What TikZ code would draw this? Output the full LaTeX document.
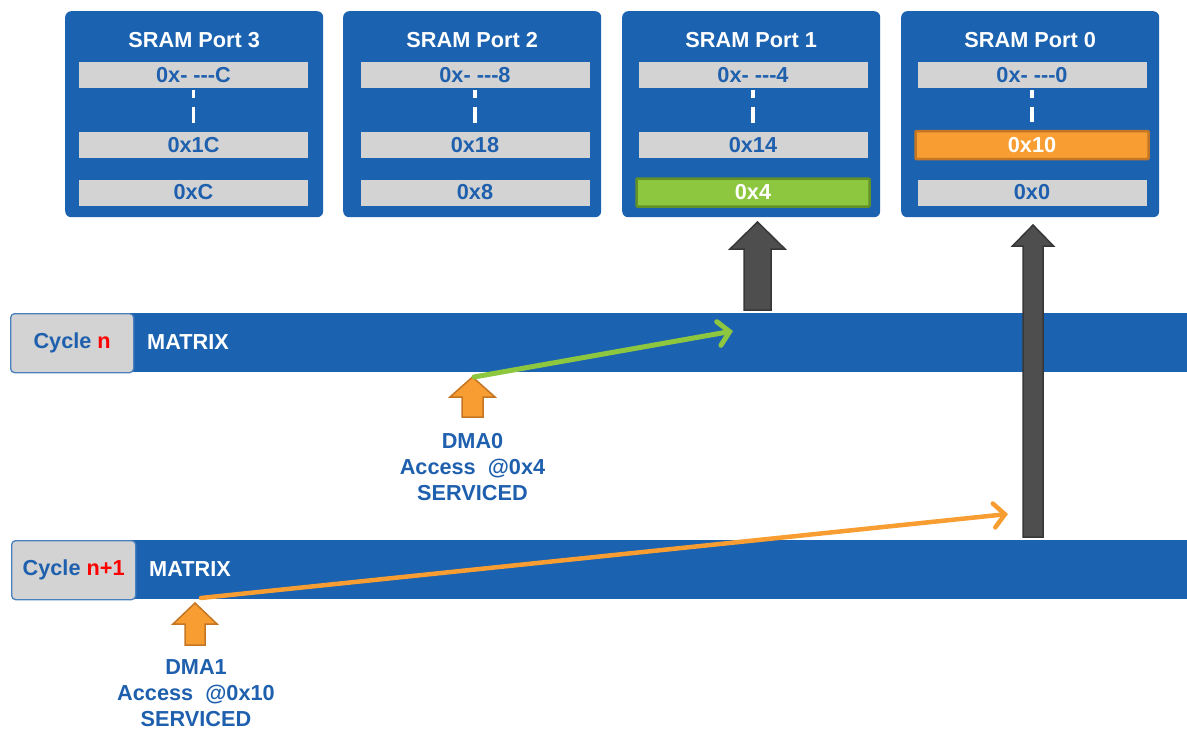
\documentclass[tikz,border=0pt]{standalone}
\usepackage{fontspec}
\setmainfont{Liberation Sans}
\usetikzlibrary{arrows.meta}

\definecolor{barblue}{RGB}{27,98,176}
\definecolor{txtblue}{RGB}{30,96,174}
\definecolor{rowgray}{RGB}{211,211,211}
\definecolor{hlgreen}{RGB}{141,198,63}
\definecolor{hlgreenedge}{RGB}{98,145,40}
\definecolor{hlorange}{RGB}{247,157,49}
\definecolor{hlorangeedge}{RGB}{196,118,36}
\definecolor{arrgray}{RGB}{78,78,78}
\definecolor{arrgrayedge}{RGB}{55,55,55}
\definecolor{cycleedge}{RGB}{74,127,190}

\tikzset{
  big/.style={font=\fontsize{21.7}{25}\selectfont\bfseries},
  portbox/.style={fill=barblue, rounded corners=6pt, anchor=north west, inner sep=0pt},
  porttitle/.style={big, text=white, inner sep=0pt},
  addr/.style={big, fill=rowgray, text=txtblue, minimum width=229pt, minimum height=26pt, inner sep=0pt},
  hitgreen/.style={big, fill=hlgreen, draw=hlgreenedge, line width=2.5pt, text=white, minimum width=233pt, minimum height=28pt, inner sep=0pt, rounded corners=1pt},
  hitorange/.style={big, fill=hlorange, draw=hlorangeedge, line width=2.5pt, text=white, minimum width=233pt, minimum height=28pt, inner sep=0pt, rounded corners=1pt},
  gap/.style={white, line width=3.2pt, dash pattern=on 8pt off 9pt on 40pt off 1pt},
  matrixbar/.style={fill=barblue, anchor=north west, inner sep=0pt},
  cyclebox/.style={big, fill=rowgray, draw=cycleedge, line width=1.3pt, rounded corners=4pt, text=txtblue, anchor=north west, inner sep=0pt},
  barlabel/.style={big, text=white, anchor=west, inner sep=0pt},
  dmatext/.style={big, text=txtblue, align=center, inner sep=0pt},
  grayblock/.style={fill=arrgray, draw=arrgrayedge, line width=1.5pt, line join=miter},
  orangeblock/.style={fill=hlorange, draw=hlorangeedge, line width=1.5pt, line join=miter},
  % upward block arrow drawn from its tip: head length / head half width / shaft half width / total length
  pics/uparrow/.style args={#1/#2/#3/#4}{code={
    \path[pic actions] (0,0) -- (#2,#1) -- (#3,#1) -- (#3,#4) -- (-#3,#4) -- (-#3,#1) -- (-#2,#1) -- cycle;
  }},
  reqgreen/.style={draw=hlgreen, line width=5pt, line cap=round, -{Straight Barb[length=11pt,width=24pt,line cap=round]}},
  reqorange/.style={draw=hlorange, line width=4.5pt, line cap=round, -{Straight Barb[length=11pt,width=24pt,line cap=round]}},
}

\begin{document}
\begin{tikzpicture}[x=1pt,y=-1pt]
\useasboundingbox (0,0) rectangle (1187,731);

% ---------- SRAM ports ----------
\foreach \name/\px/\title in {p3/65/SRAM Port 3, p2/343/SRAM Port 2, p1/622/SRAM Port 1, p0/901/SRAM Port 0}{
  \node[portbox, minimum width=258pt, minimum height=206pt] (\name) at (\px,11) {};
  \node[porttitle] (\name title) at ([yshift=-29pt]\name.north) {\title};
}

% Port 3
\node[addr] (p3a) at (193.5,75) {0x-~-{}-{}-C};
\node[addr] (p3b) at (193.5,145) {0x1C};
\node[addr] (p3c) at (193.5,192.5) {0xC};
\draw[gap] ([yshift=-2pt]p3a.south) -- ([yshift=9pt]p3b.north);

% Port 2
\node[addr] (p2a) at (475,75) {0x-~-{}-{}-8};
\node[addr] (p2b) at (475,145) {0x18};
\node[addr] (p2c) at (475,192.5) {0x8};
\draw[gap] ([yshift=-2pt]p2a.south) -- ([yshift=9pt]p2b.north);

% Port 1
\node[addr] (p1a) at (753,75) {0x-~-{}-{}-4};
\node[addr] (p1b) at (753,145) {0x14};
\node[hitgreen] (p1c) at (753,192.5) {0x4};
\draw[gap] ([yshift=-2pt]p1a.south) -- ([yshift=9pt]p1b.north);

% Port 0
\node[addr] (p0a) at (1032,75) {0x-~-{}-{}-0};
\node[hitorange] (p0b) at (1032,145) {0x10};
\node[addr] (p0c) at (1032,192.5) {0x0};
\draw[gap] ([yshift=-2pt]p0a.south) -- ([yshift=8pt]p0b.north);

% ---------- Matrix bars ----------
\node[matrixbar, minimum width=1060pt, minimum height=59pt] (barn) at (130,313) {};
\node[cyclebox, minimum width=123pt, minimum height=59pt] (cyclen) at (10,313) {Cycle \textcolor{red}{n}};
\node[barlabel] (matn) at (147,342) {MATRIX};

\node[matrixbar, minimum width=1060pt, minimum height=59pt] (barm) at (132,540) {};
\node[cyclebox, minimum width=124pt, minimum height=59pt] (cyclem) at (11,540) {Cycle \textcolor{red}{n+1}};
\node[barlabel] (matm) at (149,569) {MATRIX};

% ---------- Grant arrows into the ports ----------
\pic[grayblock] (g1) at (757.5,222) {uparrow={27/27.5/13.5/88}};
\pic[grayblock] (g0) at (1033,225) {uparrow={21/20.5/10/312}};

% ---------- DMA requests ----------
\pic[orangeblock] (d0) at (472.5,377) {uparrow={20/22.5/10.5/40}};
\pic[orangeblock] (d1) at (195,603) {uparrow={21/22/10/42}};

\coordinate (d0tip) at (474,377);
\coordinate (g1in) at (733,331);
\coordinate (d1tip) at (201,598);
\coordinate (g0in) at (1008,514);

\draw[reqgreen] (d0tip) -- (g1in);
\draw[reqorange] (d1tip) -- (g0in);

\node[dmatext] (dma0) at (472.5,467) {DMA0\\[1pt]Access~~@0x4\\[1pt]SERVICED};
\node[dmatext] (dma1) at (196,693) {DMA1\\[1pt]Access~~@0x10\\[1pt]SERVICED};

\end{tikzpicture}
\end{document}
